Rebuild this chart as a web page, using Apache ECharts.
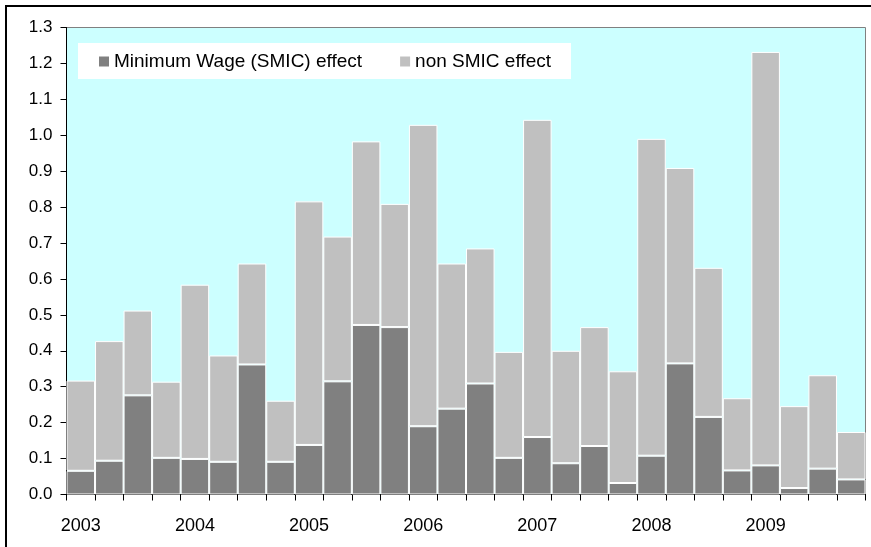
<!DOCTYPE html>
<html>
<head>
<meta charset="utf-8">
<script src="https://cdn.jsdelivr.net/npm/echarts@6/dist/echarts.min.js"></script>
<style>html,body{margin:0;padding:0;background:#fff}#c{width:871px;height:547px}</style>
</head>
<body>
<div id="c"></div>
<script>
const categories = ['2003','2003Q2','2003Q3','2003Q4','2004','2004Q2','2004Q3','2004Q4','2005','2005Q2','2005Q3','2005Q4','2006','2006Q2','2006Q3','2006Q4','2007','2007Q2','2007Q3','2007Q4','2008','2008Q2','2008Q3','2008Q4','2009','2009Q2','2009Q3','2009Q4'];
const yearLabels = ['2003','2004','2005','2006','2007','2008','2009'];
const smicEffect = [0.066,0.094,0.276,0.102,0.099,0.091,0.362,0.091,0.138,0.315,0.472,0.466,0.190,0.239,0.309,0.102,0.160,0.087,0.135,0.032,0.108,0.365,0.216,0.067,0.081,0.018,0.072,0.042];
const nonSmicEffect = [0.251,0.333,0.236,0.212,0.485,0.296,0.281,0.170,0.678,0.403,0.511,0.343,0.839,0.404,0.376,0.295,0.883,0.313,0.331,0.311,0.882,0.544,0.415,0.201,1.151,0.228,0.260,0.132];
const yTicks = ['0.0','0.1','0.2','0.3','0.4','0.5','0.6','0.7','0.8','0.9','1.0','1.1','1.2','1.3'];

const chart = echarts.init(document.getElementById('c'));
chart.setOption({
  animation: false,
  backgroundColor: '#ffffff',
  graphic: [{
    type: 'rect', silent: true, z: 0,
    shape: { x: 6, y: 6, width: 900, height: 600 },
    style: { fill: 'none', stroke: '#000000', lineWidth: 2 }
  }],
  grid: {
    left: 66.5, right: 5.5, top: 27.5, bottom: 52.5,
    show: true, backgroundColor: '#CCFFFF', borderColor: '#808080', borderWidth: 1
  },
  legend: {
    left: 78, top: 43,
    backgroundColor: '#ffffff',
    padding: [9, 20, 8, 21],
    itemWidth: 10, itemHeight: 10, itemGap: 38,
    icon: 'rect',
    itemStyle: { borderWidth: 0 },
    textStyle: { fontFamily: 'Liberation Sans, Arial, sans-serif', fontSize: 19, color: '#000000' },
    data: ['Minimum Wage (SMIC) effect', 'non SMIC effect']
  },
  xAxis: {
    type: 'category',
    data: categories,
    boundaryGap: true,
    axisLine: { lineStyle: { color: '#000000', width: 1 } },
    axisTick: { show: true, interval: 0, length: 6, lineStyle: { color: '#000000' } },
    axisLabel: {
      interval: 3, margin: 23,
      fontFamily: 'Liberation Sans, Arial, sans-serif', fontSize: 18, color: '#000000',
      formatter: function (v) { return yearLabels.indexOf(v) >= 0 ? v : ''; }
    },
    splitLine: { show: false }
  },
  yAxis: {
    type: 'value', min: 0, max: 1.3, interval: 0.1,
    axisLine: { show: true, lineStyle: { color: '#000000', width: 1 } },
    axisTick: { show: true, length: 6, lineStyle: { color: '#000000' } },
    axisLabel: {
      margin: 14, fontFamily: 'Liberation Sans, Arial, sans-serif', fontSize: 17, color: '#000000',
      formatter: function (v) { return yTicks[Math.round(v * 10)]; }
    },
    splitLine: { show: false }
  },
  series: [{
    name: 'Minimum Wage (SMIC) effect', type: 'bar', stack: 'total',
    barCategoryGap: '0%', data: smicEffect,
    itemStyle: { color: '#808080', borderColor: '#ffffff', borderWidth: 1 }
  }, {
    name: 'non SMIC effect', type: 'bar', stack: 'total',
    barCategoryGap: '0%', data: nonSmicEffect,
    itemStyle: { color: '#C0C0C0', borderColor: '#ffffff', borderWidth: 1 }
  }]
});
</script>
</body>
</html>
